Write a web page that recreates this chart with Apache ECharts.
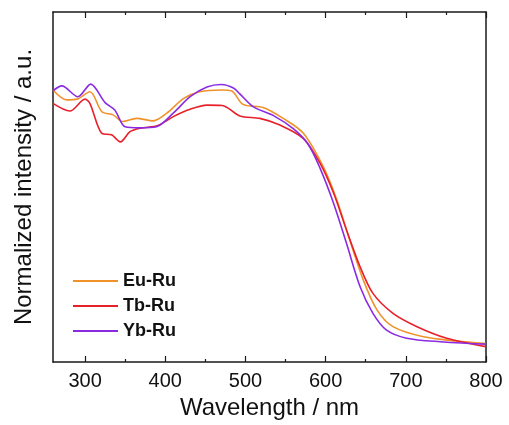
<!DOCTYPE html>
<html>
<head>
<meta charset="utf-8">
<script src="https://cdn.jsdelivr.net/npm/echarts@6/dist/echarts.min.js"></script>
<style>html,body{margin:0;padding:0;background:#fff;}#c{width:509px;height:425px;}</style>
</head>
<body>
<div id="c"></div>
<script>
var seriesNames = ['Eu-Ru', 'Tb-Ru', 'Yb-Ru'];
var xMajorTicks = [300, 400, 500, 600, 700, 800];
var xMinorTicks = [350, 450, 550, 650, 750];

var euRu = [
  [260,0.777],[277,0.749],[290,0.751],[306,0.772],[321,0.715],[335,0.706],[347,0.687],
  [364,0.696],[385,0.689],[402,0.711],[423,0.753],[443,0.772],[470,0.777],[483,0.774],
  [497,0.736],[522,0.727],[547,0.696],[572,0.654],[597,0.558],[614,0.463],[630,0.349],
  [647,0.234],[664,0.149],[684,0.101],[722,0.072],[763,0.060],[800,0.053]
];
var tbRu = [
  [260,0.739],[281,0.717],[300,0.751],[306,0.739],[321,0.653],[333,0.649],[344,0.629],
  [356,0.658],[369,0.668],[391,0.676],[410,0.701],[431,0.722],[452,0.734],[471,0.733],
  [493,0.703],[518,0.696],[543,0.677],[572,0.639],[593,0.568],[610,0.482],[626,0.377],
  [643,0.272],[659,0.196],[684,0.139],[714,0.101],[751,0.068],[800,0.044]
];
var ybRu = [
  [260,0.775],[271,0.789],[291,0.758],[307,0.794],[325,0.741],[337,0.720],[350,0.672],
  [369,0.669],[389,0.672],[410,0.711],[431,0.758],[452,0.786],[470,0.793],[485,0.783],
  [493,0.766],[510,0.729],[535,0.704],[560,0.666],[578,0.623],[593,0.554],[610,0.453],
  [626,0.339],[643,0.215],[659,0.139],[676,0.091],[701,0.068],[743,0.058],[800,0.051]
];

var colors = ['#f0922a', '#e8202a', '#8a2be2'];
var font = 'Arial, "Liberation Sans", sans-serif';
var axisCol = '#1a1a1a';

function xAx(pos, ticks, len, showLabel, showLine) {
  return {
    type: 'value', position: pos, min: 260, max: 800,
    splitLine: {show: false},
    axisLine: {show: showLine, onZero: false, lineStyle: {color: axisCol, width: 1.5}},
    axisTick: {show: true, inside: true, length: len, customValues: ticks, lineStyle: {color: axisCol, width: 1.2}},
    axisLabel: {show: showLabel, customValues: ticks, margin: 9, color: '#111', fontSize: 20, fontFamily: font},
  };
}

var chart = echarts.init(document.getElementById('c'), null, {renderer: 'canvas'});
var xa0 = xAx('bottom', xMajorTicks, 6, true, true);
xa0.name = 'Wavelength / nm';
xa0.nameLocation = 'middle';
xa0.nameGap = 33;
xa0.nameTextStyle = {fontSize: 24, color: '#111', fontFamily: font};

chart.setOption({
  animation: false,
  backgroundColor: '#fff',
  grid: {left: 53, right: 23, top: 12, bottom: 63},
  legend: {
    orient: 'vertical', left: 68, top: 267,
    icon: 'rect', itemWidth: 45, itemHeight: 2, itemGap: 7,
    textStyle: {fontSize: 18, fontWeight: 'bold', color: '#111', fontFamily: font, lineHeight: 18, padding: [0,0,0,0]},
    data: seriesNames
  },
  xAxis: [
    xa0,
    xAx('bottom', xMinorTicks, 3, false, false),
    xAx('top', xMajorTicks, 6, false, true),
    xAx('top', xMinorTicks, 3, false, false)
  ],
  yAxis: [
    {type: 'value', min: 0, max: 1, position: 'left',
     name: 'Normalized intensity / a.u.', nameLocation: 'middle', nameGap: 17,
     nameTextStyle: {fontSize: 24, color: '#111', fontFamily: font},
     splitLine: {show: false}, axisTick: {show: false}, axisLabel: {show: false},
     axisLine: {show: true, onZero: false, lineStyle: {color: axisCol, width: 1.5}}},
    {type: 'value', min: 0, max: 1, position: 'right',
     splitLine: {show: false}, axisTick: {show: false}, axisLabel: {show: false},
     axisLine: {show: true, onZero: false, lineStyle: {color: axisCol, width: 1.5}}}
  ],
  series: [
    {name: seriesNames[0], type: 'line', data: euRu, smooth: 0.3, symbol: 'none', color: colors[0], lineStyle: {width: 1.6}},
    {name: seriesNames[1], type: 'line', data: tbRu, smooth: 0.3, symbol: 'none', color: colors[1], lineStyle: {width: 1.6}},
    {name: seriesNames[2], type: 'line', data: ybRu, smooth: 0.3, symbol: 'none', color: colors[2], lineStyle: {width: 1.6}}
  ]
});
</script>
</body>
</html>
